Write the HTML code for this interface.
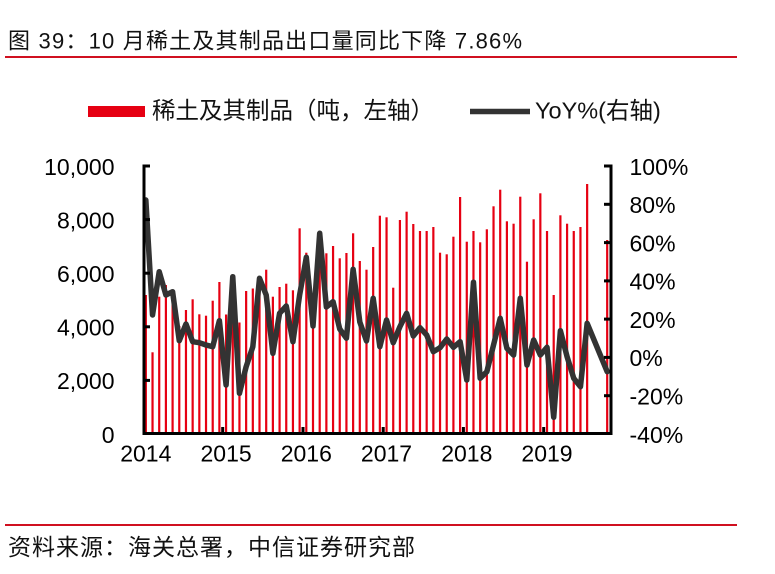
<!DOCTYPE html>
<html>
<head>
<meta charset="utf-8">
<style>
html,body{margin:0;padding:0;background:#fff;}
body{width:775px;height:574px;overflow:hidden;}
svg{display:block;}
.cjk{font-family:"Liberation Sans","Noto Sans CJK SC",sans-serif;}
.ax{font-family:"Liberation Sans",sans-serif;font-size:23px;fill:#000;}
</style>
</head>
<body>
<svg width="775" height="574" viewBox="0 0 775 574" xmlns="http://www.w3.org/2000/svg">
<rect x="0" y="0" width="775" height="574" fill="#fff"/>
<text x="8" y="48.5" class="cjk" font-size="22" letter-spacing="1.2" fill="#111">图 39：10 月稀土及其制品出口量同比下降 7.86%</text>
<line x1="5" y1="57" x2="737" y2="57" stroke="#d01020" stroke-width="2"/>
<rect x="88" y="106" width="57" height="11" fill="#e60012"/>
<text x="152" y="118.5" class="cjk" font-size="23.5" fill="#111">稀土及其制品（吨，左轴）</text>
<line x1="470" y1="111.5" x2="530" y2="111.5" stroke="#333" stroke-width="5.5"/>
<text x="535" y="118.5" class="cjk" font-size="23.5" fill="#111">YoY%(右轴)</text>
<g fill="#e60012">
<rect x="144.74" y="295" width="2.2" height="137"/>
<rect x="151.43" y="352.3" width="2.2" height="79.7"/>
<rect x="158.12" y="296.7" width="2.2" height="135.3"/>
<rect x="164.80" y="285" width="2.2" height="147"/>
<rect x="171.49" y="291.7" width="2.2" height="140.3"/>
<rect x="178.17" y="326" width="2.2" height="106"/>
<rect x="184.86" y="310" width="2.2" height="122"/>
<rect x="191.55" y="299.3" width="2.2" height="132.7"/>
<rect x="198.23" y="314.3" width="2.2" height="117.7"/>
<rect x="204.92" y="315.7" width="2.2" height="116.3"/>
<rect x="211.61" y="300.7" width="2.2" height="131.3"/>
<rect x="218.29" y="282" width="2.2" height="150"/>
<rect x="224.98" y="314.5" width="2.2" height="117.5"/>
<rect x="231.66" y="318" width="2.2" height="114"/>
<rect x="238.35" y="322.5" width="2.2" height="109.5"/>
<rect x="245.04" y="291" width="2.2" height="141"/>
<rect x="251.72" y="288.5" width="2.2" height="143.5"/>
<rect x="258.41" y="281.6" width="2.2" height="150.4"/>
<rect x="265.10" y="269.7" width="2.2" height="162.3"/>
<rect x="271.78" y="296.7" width="2.2" height="135.3"/>
<rect x="278.47" y="287" width="2.2" height="145"/>
<rect x="285.15" y="283.7" width="2.2" height="148.3"/>
<rect x="291.84" y="290.3" width="2.2" height="141.7"/>
<rect x="298.53" y="228.3" width="2.2" height="203.7"/>
<rect x="305.21" y="252.7" width="2.2" height="179.3"/>
<rect x="311.90" y="298.2" width="2.2" height="133.8"/>
<rect x="318.59" y="250" width="2.2" height="182"/>
<rect x="325.27" y="253.3" width="2.2" height="178.7"/>
<rect x="331.96" y="246" width="2.2" height="186"/>
<rect x="338.64" y="258.3" width="2.2" height="173.7"/>
<rect x="345.33" y="253" width="2.2" height="179"/>
<rect x="352.02" y="233.3" width="2.2" height="198.7"/>
<rect x="358.70" y="261" width="2.2" height="171"/>
<rect x="365.39" y="269.7" width="2.2" height="162.3"/>
<rect x="372.08" y="247" width="2.2" height="185"/>
<rect x="378.76" y="215.7" width="2.2" height="216.3"/>
<rect x="385.45" y="217.3" width="2.2" height="214.7"/>
<rect x="392.13" y="287.7" width="2.2" height="144.3"/>
<rect x="398.82" y="220" width="2.2" height="212"/>
<rect x="405.51" y="211.7" width="2.2" height="220.3"/>
<rect x="412.19" y="224" width="2.2" height="208"/>
<rect x="418.88" y="231" width="2.2" height="201"/>
<rect x="425.57" y="231" width="2.2" height="201"/>
<rect x="432.25" y="227" width="2.2" height="205"/>
<rect x="438.94" y="252.7" width="2.2" height="179.3"/>
<rect x="445.62" y="254.3" width="2.2" height="177.7"/>
<rect x="452.31" y="236.7" width="2.2" height="195.3"/>
<rect x="459.00" y="197" width="2.2" height="235"/>
<rect x="465.68" y="241.7" width="2.2" height="190.3"/>
<rect x="472.37" y="231" width="2.2" height="201"/>
<rect x="479.06" y="242.3" width="2.2" height="189.7"/>
<rect x="485.74" y="229.3" width="2.2" height="202.7"/>
<rect x="492.43" y="206.3" width="2.2" height="225.7"/>
<rect x="499.11" y="189.7" width="2.2" height="242.3"/>
<rect x="505.80" y="221.3" width="2.2" height="210.7"/>
<rect x="512.49" y="223.7" width="2.2" height="208.3"/>
<rect x="519.17" y="196.7" width="2.2" height="235.3"/>
<rect x="525.86" y="261.7" width="2.2" height="170.3"/>
<rect x="532.55" y="219.3" width="2.2" height="212.7"/>
<rect x="539.23" y="193.3" width="2.2" height="238.7"/>
<rect x="545.92" y="231" width="2.2" height="201"/>
<rect x="552.60" y="295" width="2.2" height="137"/>
<rect x="559.29" y="215.3" width="2.2" height="216.7"/>
<rect x="565.98" y="223.7" width="2.2" height="208.3"/>
<rect x="572.66" y="231" width="2.2" height="201"/>
<rect x="579.35" y="227" width="2.2" height="205"/>
<rect x="586.04" y="184" width="2.2" height="248"/>
<rect x="606.09" y="240" width="2.2" height="192"/>
</g>
<polyline fill="none" stroke="#333" stroke-width="5.5" stroke-linejoin="round" stroke-linecap="round" points="145.84,200 152.53,315 159.22,271.7 165.90,295 172.59,291.7 179.27,340.7 185.96,324 192.65,341.7 199.33,342.7 206.02,345 212.71,346.7 219.39,320.7 226.08,385 232.76,276.7 239.45,393.3 246.14,366.7 252.82,346.7 259.51,278.3 266.20,295 272.88,353.3 279.57,313.3 286.25,306 292.94,341.7 299.63,295 306.31,257.3 313.00,326 319.69,233.3 326.37,307 333.06,301.7 339.74,329 346.43,338.2 353.12,269.3 359.80,322 366.49,341 373.18,298.3 379.86,346.7 386.55,320 393.23,342.7 399.92,326.7 406.61,313.3 413.29,336 419.98,327.7 426.67,335 433.35,351.7 440.04,347.7 446.72,339 453.41,347.3 460.10,341.7 466.78,380 473.47,282.2 480.16,378.3 486.84,371.7 493.53,345 500.21,318.3 506.90,348.3 513.59,355 520.27,298.3 526.96,365 533.65,340 540.33,355 547.02,347.3 553.70,417.3 560.39,330.7 567.08,356.7 573.76,378.3 580.45,386.7 587.14,323.3 607.19,371.7"/>
<g stroke="#000" stroke-width="3" fill="none">
<line x1="144" y1="164.5" x2="144" y2="435"/>
<line x1="611" y1="164.5" x2="611" y2="435"/>
<line x1="142.5" y1="433.5" x2="612.5" y2="433.5"/>
<line x1="144" y1="166" x2="150" y2="166"/>
<line x1="144" y1="219.6" x2="150" y2="219.6"/>
<line x1="144" y1="273.2" x2="150" y2="273.2"/>
<line x1="144" y1="326.8" x2="150" y2="326.8"/>
<line x1="144" y1="380.4" x2="150" y2="380.4"/>
<line x1="604" y1="166" x2="611" y2="166"/>
<line x1="604" y1="204.3" x2="611" y2="204.3"/>
<line x1="604" y1="242.6" x2="611" y2="242.6"/>
<line x1="604" y1="280.9" x2="611" y2="280.9"/>
<line x1="604" y1="319.1" x2="611" y2="319.1"/>
<line x1="604" y1="357.4" x2="611" y2="357.4"/>
<line x1="604" y1="395.7" x2="611" y2="395.7"/>
<line x1="222.7" y1="427" x2="222.7" y2="433"/>
<line x1="303" y1="427" x2="303" y2="433"/>
<line x1="383.2" y1="427" x2="383.2" y2="433"/>
<line x1="463.4" y1="427" x2="463.4" y2="433"/>
<line x1="543.7" y1="427" x2="543.7" y2="433"/>
</g>
<g class="ax" text-anchor="end">
<text x="114.5" y="174.8">10,000</text>
<text x="114.5" y="228.4">8,000</text>
<text x="114.5" y="282">6,000</text>
<text x="114.5" y="335.6">4,000</text>
<text x="114.5" y="389.2">2,000</text>
<text x="114.5" y="442.8">0</text>
</g>
<g class="ax" text-anchor="start">
<text x="629.5" y="174.8">100%</text>
<text x="629.5" y="213.1">80%</text>
<text x="629.5" y="251.4">60%</text>
<text x="629.5" y="289.7">40%</text>
<text x="629.5" y="327.9">20%</text>
<text x="629.5" y="366.2">0%</text>
<text x="629.5" y="404.5">-20%</text>
<text x="629.5" y="442.8">-40%</text>
</g>
<g class="ax" text-anchor="middle">
<text x="145.8" y="461.5">2014</text>
<text x="226.1" y="461.5">2015</text>
<text x="306.3" y="461.5">2016</text>
<text x="386.5" y="461.5">2017</text>
<text x="466.8" y="461.5">2018</text>
<text x="547" y="461.5">2019</text>
</g>
<line x1="5" y1="525" x2="737" y2="525" stroke="#d01020" stroke-width="2"/>
<text x="8" y="555" class="cjk" font-size="23" letter-spacing="1" fill="#111">资料来源：海关总署，中信证券研究部</text>
</svg>
</body>
</html>
